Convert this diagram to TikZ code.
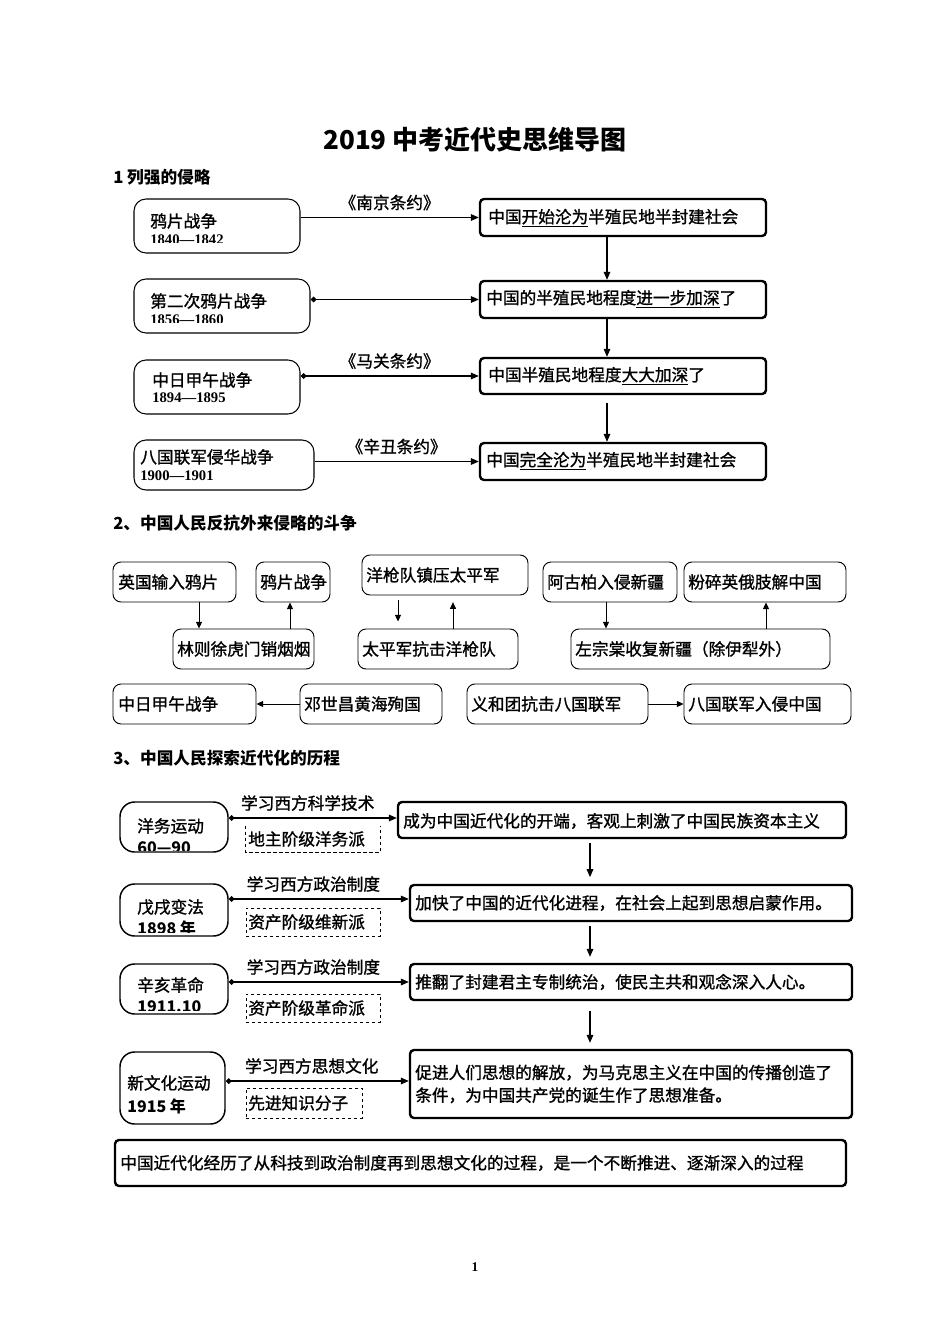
\documentclass[tikz,border=0pt]{standalone}
\usepackage{fontspec}
\setmainfont{Noto Sans CJK SC}
\newfontfamily\mf[FakeBold=1.2]{Noto Sans CJK SC}
\newfontfamily\tnr{Liberation Serif}
\usetikzlibrary{arrows.meta}
\newcommand{\bx}[6]{\node[#6, inner sep=0pt, minimum width={(#4-#2)*0.75pt}, minimum height={(#5-#3)*0.75pt}] (#1) at ({(#2+#4)/2},{(#3+#5)/2}) {};}
\tikzset{
  tx/.style={inner sep=0pt, font=\mf\fontsize{12.5}{15}\selectfont},
  hd/.style={inner sep=0pt, font=\bfseries\fontsize{12.5}{15}\selectfont},
  yr/.style={inner sep=0pt, font=\tnr\bfseries\fontsize{11}{13}\selectfont},
  yrs/.style={inner sep=0pt, font=\bfseries\fontsize{12}{14}\selectfont},
  lbox/.style={draw, line width=0.8pt, rounded corners=9pt},
  rbox/.style={draw, line width=1.8pt, rounded corners=3pt},
  sbox/.style={draw, line width=0.7pt, rounded corners=6pt},
  ybox/.style={draw, line width=1.1pt, rounded corners=11pt},
  dline/.style={line width=0.6pt, dash pattern=on 2.5pt off 2pt},
  dbox/.style={draw, dline},
  arr/.style={line width=0.8pt, -{Triangle[length=6pt,width=5pt]}},
  darr/.style={line width=0.8pt, {Diamond[length=4.5pt,width=4.5pt]}-{Triangle[length=6pt,width=5pt]}},
  sarr/.style={line width=0.7pt, -{Triangle[length=5pt,width=4.5pt]}},
}
\begin{document}
\begin{tikzpicture}[x=0.75pt,y=-0.75pt]
\fill[white] (0,0) rectangle (950,1344);
\useasboundingbox (0,0) rectangle (950,1344);

% title
\node[inner sep=0pt, font=\bfseries\fontsize{19.5}{22}\selectfont] (title) at (475,140) {2019 中考近代史思维导图};
\node[hd, anchor=west] (h1) at (113,177) {1 列强的侵略};

% ---------- section 1 ----------
\bx{L1}{134}{199}{300}{253}{lbox}
\node[tx, anchor=west] (L1t) at (150,221) {鸦片战争};
\begin{scope}\clip (134,199) rectangle (300,242.5);
\node[yr, anchor=west] (L1y) at (150,240) {1840—1842};
\end{scope}
\bx{R1}{480}{199}{766}{236}{rbox}
\node[tx, anchor=west] (R1t) at (488,218) {中国\underline{开始沦为}半殖民地半封建社会};
\draw[arr] (L1.east |- R1.west) -- (R1.west) node[midway, above=5pt, tx] (k1) {《南京条约》};

\bx{L2}{134}{279}{310}{333}{lbox}
\node[tx, anchor=west] (L2t) at (150,301) {第二次鸦片战争};
\begin{scope}\clip (134,279) rectangle (310,322.5);
\node[yr, anchor=west] (L2y) at (150,320) {1856—1860};
\end{scope}
\bx{R2}{480}{281}{766}{318}{rbox}
\node[tx, anchor=west] (R2t) at (486,299) {中国的半殖民地程度\underline{进一步加深}了};
\draw[darr] (L2.east |- R2.west) -- (R2.west);
\draw[arr] (R1.south -| 607,0) -- (R2.north -| 607,0);

\bx{L3}{134}{360}{300}{414}{lbox}
\node[tx, anchor=west] (L3t) at (152,380) {中日甲午战争};
\node[yr, anchor=west] (L3y) at (152,398) {1894—1895};
\bx{R3}{480}{358}{766}{394}{rbox}
\node[tx, anchor=west] (R3t) at (488,376) {中国半殖民地程度\underline{大大加深}了};
\draw[darr] (L3.east |- R3.west) -- (R3.west) node[midway, above=5pt, tx] (k3) {《马关条约》};
\draw[arr] (R2.south -| 607,0) -- (R3.north -| 607,0);

\bx{L4}{134}{440}{314}{490}{lbox}
\node[tx, anchor=west] (L4t) at (140,457) {八国联军侵华战争};
\node[yr, anchor=west] (L4y) at (140,476) {1900—1901};
\bx{R4}{480}{443}{766}{480}{rbox}
\node[tx, anchor=west] (R4t) at (486,461) {中国\underline{完全沦为}半殖民地半封建社会};
\draw[arr] (L4.east |- R4.west) -- (R4.west) node[midway, above=5pt, tx] (k4) {《辛丑条约》};
\draw[arr] ([yshift=-6pt]R3.south -| 607,0) -- (R4.north -| 607,0);

% ---------- section 2 ----------
\node[hd, anchor=west] (h2) at (113,523) {2、中国人民反抗外来侵略的斗争};

\bx{A1}{113}{562}{236}{602}{sbox}
\node[tx, anchor=west] (A1t) at (118,582) {英国输入鸦片};
\bx{A2}{256}{562}{330}{602}{sbox}
\node[tx, anchor=west] (A2t) at (260,582) {鸦片战争};
\bx{A3}{362}{555}{528}{595}{sbox}
\node[tx, anchor=west] (A3t) at (366,575) {洋枪队镇压太平军};
\bx{A4}{543}{562}{677}{602}{sbox}
\node[tx, anchor=west] (A4t) at (547,582) {阿古柏入侵新疆};
\bx{A5}{684}{562}{846}{602}{sbox}
\node[tx, anchor=west] (A5t) at (688,582) {粉碎英俄肢解中国};

\bx{B1}{173}{629}{314}{669}{sbox}
\node[tx, anchor=west] (B1t) at (177,649) {林则徐虎门销烟烟};
\bx{B2}{358}{629}{518}{669}{sbox}
\node[tx, anchor=west] (B2t) at (362,649) {太平军抗击洋枪队};
\bx{B3}{571}{629}{830}{669}{sbox}
\node[tx, anchor=west] (B3t) at (575,649) {左宗棠收复新疆（除伊犁外）};

\bx{C1}{113}{684}{256}{724}{sbox}
\node[tx, anchor=west] (C1t) at (118,704) {中日甲午战争};
\bx{C2}{300}{684}{442}{724}{sbox}
\node[tx, anchor=west] (C2t) at (304,704) {邓世昌黄海殉国};
\bx{C3}{467}{684}{648}{724}{sbox}
\node[tx, anchor=west] (C3t) at (471,704) {义和团抗击八国联军};
\bx{C4}{684}{684}{851}{724}{sbox}
\node[tx, anchor=west] (C4t) at (688,704) {八国联军入侵中国};

\draw[sarr] (A1.south -| 199,0) -- (B1.north -| 199,0);
\draw[sarr] (B1.north -| 290,0) -- (A2.south -| 290,0);
\draw[sarr] ([yshift=-3.75pt]A3.south -| 398,0) -- ([yshift=5.25pt]B2.north -| 398,0);
\draw[sarr] (B2.north -| 453,0) -- ([yshift=-5pt]A3.south -| 453,0);
\draw[sarr] (A4.south -| 606,0) -- (B3.north -| 606,0);
\draw[sarr] (B3.north -| 766,0) -- (A5.south -| 766,0);
\draw[sarr] (C2.west) -- (C1.east);
\draw[sarr] (C3.east) -- (C4.west);

% ---------- section 3 ----------
\node[hd, anchor=west] (h3) at (113,758) {3、中国人民探索近代化的历程};

\bx{P1}{120}{802}{228}{852}{ybox}
\node[tx, anchor=west] (P1t) at (137,826) {洋务运动};
\begin{scope}\clip (120,802) rectangle (228,850);
\node[yrs, anchor=west] (P1y) at (137,847.5) {60—90};
\end{scope}
\bx{Q1}{398}{802}{846}{838}{rbox}
\node[tx, anchor=west] (Q1t) at (403,821) {成为中国近代化的开端，客观上刺激了中国民族资本主义};
\draw[darr] (P1.east |- 0,818) -- (Q1.west |- 0,818) node[pos=0.47, above=5pt, tx] (m1) {学习西方科学技术};
\bx{D1}{246}{826}{380}{852}{}
\draw[dline] (D1.north west) -- (D1.south west) -- (D1.south east) -- (D1.north east);
\node[tx, anchor=west] (D1t) at (248,839) {地主阶级洋务派};

\bx{P2}{120}{884}{228}{936}{ybox}
\node[tx, anchor=west] (P2t) at (137,907) {戊戌变法};
\begin{scope}\clip (120,884) rectangle (228,932);
\node[yrs, anchor=west] (P2y) at (137,928.5) {1898 年};
\end{scope}
\bx{Q2}{410}{885}{852}{921}{rbox}
\node[tx, anchor=west] (Q2t) at (415,903) {加快了中国的近代化进程，在社会上起到思想启蒙作用。};
\draw[darr] (P2.east |- 0,899) -- (Q2.west |- 0,899) node[pos=0.47, above=5pt, tx] (m2) {学习西方政治制度};
\bx{D2}{246}{908}{380}{936}{dbox}
\node[tx, anchor=west] (D2t) at (248,922) {资产阶级维新派};
\draw[arr] ([yshift=-3pt]Q1.south -| 590,0) -- ([yshift=5pt]Q2.north -| 590,0);

\bx{P3}{120}{964}{228}{1014}{ybox}
\node[tx, anchor=west] (P3t) at (137,985) {辛亥革命};
\begin{scope}\clip (120,964) rectangle (228,1010);
\node[yrs, anchor=west] (P3y) at (137,1006.5) {1911.10};
\end{scope}
\bx{Q3}{410}{964}{852}{1000}{rbox}
\node[tx, anchor=west] (Q3t) at (415,982) {推翻了封建君主专制统治，使民主共和观念深入人心。};
\draw[darr] (P3.east |- 0,982) -- (Q3.west |- 0,982) node[pos=0.47, above=5pt, tx] (m3) {学习西方政治制度};
\bx{D3}{246}{994}{380}{1022}{dbox}
\node[tx, anchor=west] (D3t) at (248,1008) {资产阶级革命派};
\draw[arr] ([yshift=-3pt]Q2.south -| 590,0) -- ([yshift=4.5pt]Q3.north -| 590,0);

\bx{P4}{120}{1052}{225}{1124}{ybox}
\node[tx, anchor=west] (P4t) at (127,1083) {新文化运动};
\node[yrs, anchor=west] (P4y) at (127,1106) {1915 年};
\bx{Q4}{410}{1050}{852}{1118}{rbox}
\node[tx, anchor=west, align=left, font=\mf\fontsize{12.5}{17}\selectfont] (Q4t) at (415,1084) {促进人们思想的解放，为马克思主义在中国的传播创造了\\条件，为中国共产党的诞生作了思想准备。};
\draw[darr] (P4.east |- 0,1081) -- (Q4.west |- 0,1081) node[pos=0.47, above=5pt, tx] (m4) {学习西方思想文化};
\bx{D4}{246}{1088}{362}{1118}{dbox}
\node[tx, anchor=west] (D4t) at (248,1103) {先进知识分子};
\draw[arr] ([yshift=-7pt]Q3.south -| 590,0) -- ([yshift=4.5pt]Q4.north -| 590,0);

\bx{S1}{115}{1140}{846}{1186}{rbox}
\node[tx, anchor=west] (S1t) at (120,1163) {中国近代化经历了从科技到政治制度再到思想文化的过程，是一个不断推进、逐渐深入的过程};

\node[inner sep=0pt, font=\tnr\bfseries\fontsize{10}{12}\selectfont] (pg) at (475,1267) {1};
\end{tikzpicture}
\end{document}
